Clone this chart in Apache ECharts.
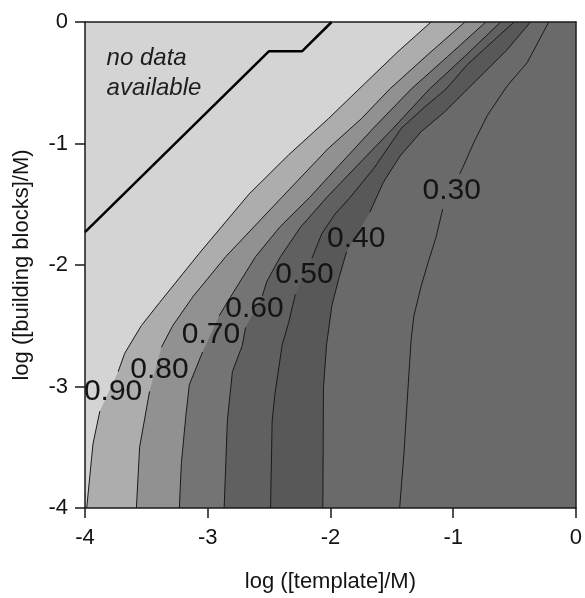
<!DOCTYPE html>
<html>
<head>
<meta charset="utf-8">
<script src="https://cdn.jsdelivr.net/npm/echarts@6/dist/echarts.min.js"></script>
<style>
  html, body { margin: 0; padding: 0; background: #ffffff; }
  #chart { width: 585px; height: 598px; }
</style>
</head>
<body>
<div id="chart"></div>
<script>
// Contour levels (fraction), lowest first
const levels = [0.30, 0.40, 0.50, 0.60, 0.70, 0.80, 0.90];

// Contour lines in [log template, log building blocks], running from the top edge down.
// A null marks where the line is broken for its label.
const contour030 = [
  [-0.221, 0], [-0.397, -0.335], [-0.559, -0.525], [-0.721, -0.768], [-0.828, -0.984],
  [-0.923, -1.201], [-0.947, -1.249],
  null,
  [-1.085, -1.539], [-1.139, -1.769], [-1.206, -1.985], [-1.261, -2.174], [-1.320, -2.418],
  [-1.342, -2.607], [-1.368, -3.013], [-1.401, -3.554], [-1.436, -4]
];
const contour040 = [
  [-0.370, 0], [-0.559, -0.227], [-0.747, -0.416], [-0.909, -0.578], [-1.071, -0.741],
  [-1.261, -0.903], [-1.433, -1.103], [-1.571, -1.323], [-1.679, -1.566],
  null,
  [-1.868, -1.890], [-1.927, -2.093], [-1.989, -2.337], [-2.032, -2.661], [-2.057, -3.013],
  [-2.062, -4]
];
const contour050 = [
  [-0.504, 0], [-0.680, -0.162], [-0.883, -0.349], [-1.058, -0.552], [-1.233, -0.700],
  [-1.423, -0.876], [-1.644, -1.201], [-1.840, -1.444], [-1.962, -1.580], [-2.070, -1.742],
  [-2.151, -1.945],
  null,
  [-2.286, -2.242], [-2.340, -2.472], [-2.394, -2.661], [-2.453, -3.067], [-2.475, -3.284],
  [-2.488, -4]
];
const contour060 = [
  [-0.613, 0], [-0.907, -0.284], [-1.193, -0.552], [-1.490, -0.876], [-1.800, -1.201],
  [-2.030, -1.444], [-2.243, -1.688], [-2.407, -1.931], [-2.518, -2.134], [-2.556, -2.256],
  null,
  [-2.691, -2.513], [-2.718, -2.661], [-2.799, -2.878], [-2.840, -3.284], [-2.866, -4]
];
const contour070 = [
  [-0.734, 0], [-1.045, -0.284], [-1.342, -0.552], [-1.652, -0.876], [-1.949, -1.201],
  [-2.170, -1.444], [-2.413, -1.688], [-2.610, -1.931], [-2.810, -2.256], [-2.907, -2.418],
  null,
  [-3.042, -2.716], [-3.150, -2.986], [-3.177, -3.229], [-3.215, -3.635], [-3.231, -4]
];
const contour080 = [
  [-0.904, 0], [-1.206, -0.268], [-1.517, -0.552], [-1.747, -0.795], [-2.016, -1.039],
  [-2.397, -1.444], [-2.853, -1.931], [-3.117, -2.256], [-3.285, -2.499], [-3.377, -2.677],
  null,
  [-3.474, -3.040], [-3.555, -3.499], [-3.581, -4]
];
const contour090 = [
  [-1.180, 0], [-1.449, -0.243], [-1.733, -0.519], [-2.016, -0.795], [-2.340, -1.093],
  [-2.664, -1.417], [-3.069, -1.904], [-3.393, -2.310], [-3.541, -2.499], [-3.676, -2.726],
  [-3.730, -2.878],
  null,
  [-3.879, -3.202], [-3.935, -3.473], [-3.986, -4]
];
const contours = [contour030, contour040, contour050, contour060, contour070, contour080, contour090];

// Where each contour's value label sits
const labelAnchors = [
  [-1.012, -1.391], [-1.790, -1.785], [-2.212, -2.080], [-2.619, -2.361],
  [-2.974, -2.572], [-3.393, -2.864], [-3.771, -3.047]
];

// Edge of the measured region
const noDataBoundary = [[-4, -1.73], [-2.50, -0.24], [-2.23, -0.24], [-1.99, 0]];
const noDataNote = [[-3.824, -0.419, 'no data\navailable']];

// Fill above each level (same order as levels); area below 0.30 uses the plot background
const belowLowestColor = '#6a6a6a';
const bandColors = ['#6a6a6a', '#585858', '#606060', '#747474', '#919191', '#adadad', '#d4d4d4'];

const FONT = '"Liberation Sans", Arial, Helvetica, sans-serif';
const INK = '#141414';
const frameLine = { color: '#1a1a1a', width: 1.5 };

const chart = echarts.init(document.getElementById('chart'), null, { renderer: 'canvas' });

const levelData = levels.map((lv, i) => [labelAnchors[i][0], labelAnchors[i][1], lv]);

const option = {
  animation: false,
  backgroundColor: '#ffffff',
  grid: {
    left: 85, top: 22, width: 494, height: 493,
    show: true, backgroundColor: belowLowestColor, borderWidth: 0
  },
  xAxis: [
    {
      type: 'value', min: -4, max: 0, interval: 1, position: 'bottom', z: 10,
      axisLine: { show: true, onZero: false, lineStyle: frameLine },
      axisTick: { show: true, inside: false, length: 10, lineStyle: frameLine },
      axisLabel: { fontSize: 22, color: INK, fontFamily: FONT, margin: 19 },
      splitLine: { show: false },
      name: 'log ([template]/M)', nameLocation: 'middle', nameGap: 63,
      nameTextStyle: { fontSize: 22, color: INK, fontFamily: FONT }
    },
    {
      type: 'value', min: -4, max: 0, position: 'top', z: 10,
      axisLine: { show: true, onZero: false, lineStyle: frameLine },
      axisTick: { show: false }, axisLabel: { show: false }, splitLine: { show: false }
    }
  ],
  yAxis: [
    {
      type: 'value', min: -4, max: 0, interval: 1, position: 'left', z: 10,
      axisLine: { show: true, onZero: false, lineStyle: frameLine },
      axisTick: { show: true, inside: false, length: 10, lineStyle: frameLine },
      axisLabel: { fontSize: 22, color: INK, fontFamily: FONT, margin: 17 },
      splitLine: { show: false },
      name: 'log ([building blocks]/M)', nameLocation: 'middle', nameGap: 52,
      nameTextStyle: { fontSize: 22, color: INK, fontFamily: FONT }
    },
    {
      type: 'value', min: -4, max: 0, position: 'right', z: 10,
      axisLine: { show: true, onZero: false, lineStyle: frameLine },
      axisTick: { show: false }, axisLabel: { show: false }, splitLine: { show: false }
    }
  ],
  series: [
    {
      // filled regions: each level's polygon covers everything above-left of its contour
      type: 'custom', name: 'bands', xAxisIndex: 0, yAxisIndex: 0,
      clip: true, silent: true, z: 1,
      data: levelData,
      renderItem: function (params, api) {
        const i = params.dataIndex;
        const pts = contours[i].filter(Boolean).map(p => api.coord(p));
        pts.push(api.coord([-4, -4]), api.coord([-4, 0]));
        return {
          type: 'polygon',
          shape: { points: pts },
          style: { fill: bandColors[i], stroke: 'none' }
        };
      }
    },
    {
      // contour lines with their value labels
      type: 'custom', name: 'contours', xAxisIndex: 0, yAxisIndex: 0,
      clip: true, silent: true, z: 2,
      data: levelData,
      renderItem: function (params, api) {
        const i = params.dataIndex;
        const children = [];
        let seg = [];
        const flush = () => {
          if (seg.length > 1) {
            children.push({
              type: 'polyline',
              shape: { points: seg },
              style: { stroke: '#1a1a1a', lineWidth: 1, fill: 'none' }
            });
          }
          seg = [];
        };
        contours[i].forEach(p => { if (p) seg.push(api.coord(p)); else flush(); });
        flush();
        const c = api.coord([api.value(0), api.value(1)]);
        children.push({
          type: 'text', x: c[0], y: c[1],
          style: {
            text: api.value(2).toFixed(2),
            align: 'center', verticalAlign: 'middle',
            font: '30px ' + FONT, fill: INK
          }
        });
        return { type: 'group', children: children };
      }
    },
    {
      type: 'line', name: 'boundary', xAxisIndex: 0, yAxisIndex: 0,
      data: noDataBoundary, symbol: 'none', silent: true, z: 3, clip: true,
      lineStyle: { color: '#000000', width: 2.5 }
    },
    {
      type: 'custom', name: 'note', xAxisIndex: 0, yAxisIndex: 0,
      silent: true, z: 4,
      data: noDataNote,
      renderItem: function (params, api) {
        const c = api.coord([api.value(0), api.value(1)]);
        return {
          type: 'text', x: c[0], y: c[1],
          style: {
            text: noDataNote[params.dataIndex][2],
            align: 'left', verticalAlign: 'middle',
            font: 'italic 24px ' + FONT, lineHeight: 30, fill: '#1e1e1e'
          }
        };
      }
    }
  ]
};

chart.setOption(option);
</script>
</body>
</html>
